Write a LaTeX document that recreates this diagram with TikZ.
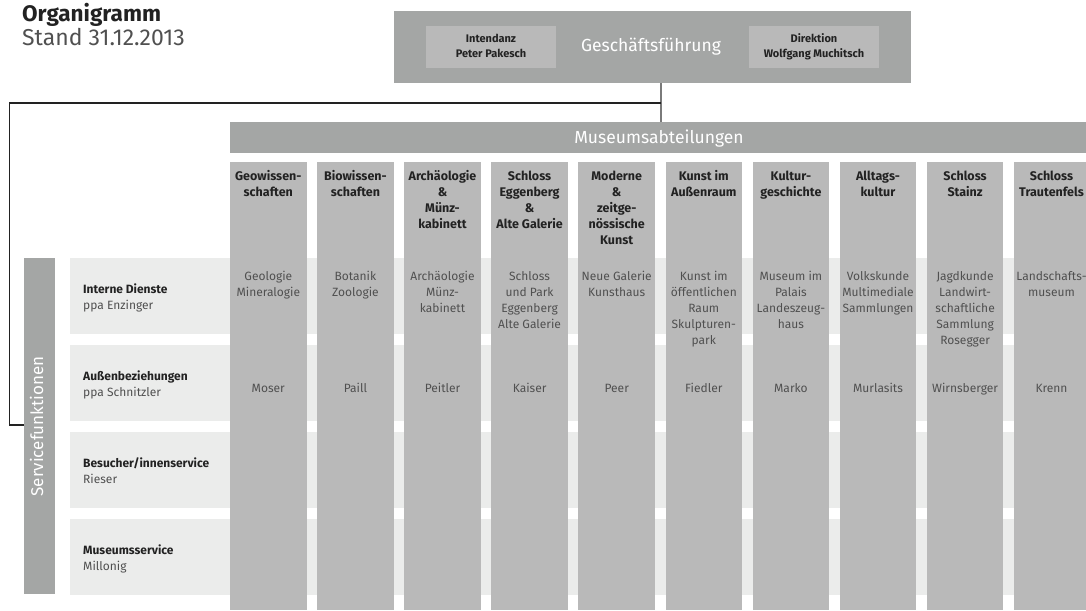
\documentclass[tikz,border=0pt]{standalone}
\usepackage{fontspec}
\setmainfont{Fira Sans}
\definecolor{dk}{HTML}{A4A6A5}
\definecolor{col}{HTML}{B9B9B9}
\definecolor{band}{HTML}{EBECEB}
\definecolor{txt}{HTML}{505050}
\definecolor{hd}{HTML}{222222}
\definecolor{lng}{HTML}{7A7A7A}
\newcommand\tsr{\rule{0pt}{10pt}}
\newcommand\tsrs{\rule{0pt}{9pt}}
\tikzset{
  box/.style={rectangle,inner sep=0pt,outer sep=0pt,anchor=north west},
  colbox/.style={box,fill=col,minimum width=76.5pt,minimum height=448pt},
  bandbox/.style={box,fill=band,minimum width=1020pt,minimum height=75.5pt},
  headtxt/.style={anchor=north,align=center,inner sep=0pt,text=hd,font=\fontsize{12.5}{16}\selectfont\bfseries},
  bodytxt/.style={anchor=north,align=center,inner sep=0pt,text=txt,font=\fontsize{12}{16}\selectfont},
  nametxt/.style={anchor=base,inner sep=0pt,text=txt,font=\fontsize{12}{16}\selectfont},
  rowtxt/.style={anchor=north west,align=left,inner sep=0pt,text=txt,font=\fontsize{12}{16}\selectfont},
  smalltxt/.style={anchor=north,align=center,inner sep=0pt,text=hd,font=\fontsize{11}{15.5}\selectfont\bfseries},
  bigw/.style={inner sep=0pt,text=white,font=\fontsize{17.5}{20}\selectfont},
}
\newcommand\rowhead[1]{{\color{hd}\bfseries #1}}
\begin{document}
\begin{tikzpicture}[x=1pt,y=-1pt]
\clip (0,0) rectangle (1086,610);
\useasboundingbox (0,0) rectangle (1086,610);

% title
\node[anchor=base west,inner sep=0pt,text=hd,font=\fontsize{22.5}{24}\selectfont\bfseries] (title) at (22,21.5) {Organigramm};
\node[anchor=base west,inner sep=0pt,text=txt,font=\fontsize{23}{26}\selectfont] (stand) at (22,45.5) {Stand 31.12.2013};

% top box
\node[box,fill=dk,minimum width=517pt,minimum height=72pt] (gf) at (394,11) {};
\node[box,fill=col,minimum width=130pt,minimum height=42pt] (int) at (426,26) {};
\node[box,fill=col,minimum width=130pt,minimum height=42pt] (dir) at (749,26) {};
\node[smalltxt] (intt) at (491,33) {\tsrs Intendanz\\Peter Pakesch};
\node[smalltxt] (dirt) at (814,33) {\tsrs Direktion\\Wolfgang Muchitsch};
\node[bigw,anchor=base] (gft) at (651,52) {Geschäftsführung};

% bands
\node[bandbox] (b1) at (70,258) {};
\node[bandbox] (b2) at (70,345) {};
\node[bandbox] (b3) at (70,432) {};
\node[bandbox] (b4) at (70,519) {};

% Servicefunktionen bar
\node[box,fill=dk,minimum width=31pt,minimum height=336pt] (sf) at (24,258) {};
\node[bigw,anchor=base,rotate=90,font=\fontsize{17}{20}\selectfont] (sft) at (43,426.5) {Servicefunktionen};

% Museumsabteilungen bar
\node[box,fill=dk,minimum width=860pt,minimum height=31pt] (mab) at (230,122) {};
\node[bigw,anchor=base] (mabt) at (659,143) {Museumsabteilungen};

% columns
\node[colbox] (c0) at (230.0,162) {};
\node[colbox] (c1) at (317.1,162) {};
\node[colbox] (c2) at (404.2,162) {};
\node[colbox] (c3) at (491.3,162) {};
\node[colbox] (c4) at (578.4,162) {};
\node[colbox] (c5) at (665.5,162) {};
\node[colbox] (c6) at (752.6,162) {};
\node[colbox] (c7) at (839.7,162) {};
\node[colbox] (c8) at (926.8,162) {};
\node[colbox] (c9) at (1013.9,162) {};

% column headers
\node[headtxt] (h0) at (268.3,170.5) {\tsr Geowissen-\\schaften};
\node[headtxt] (h1) at (355.4,170.5) {\tsr Biowissen-\\schaften};
\node[headtxt] (h2) at (442.5,170.5) {\tsr Archäologie\\\&\\Münz-\\kabinett};
\node[headtxt] (h3) at (529.6,170.5) {\tsr Schloss\\Eggenberg\\\&\\Alte Galerie};
\node[headtxt] (h4) at (616.7,170.5) {\tsr Moderne\\\&\\zeitge-\\nössische\\Kunst};
\node[headtxt] (h5) at (703.8,170.5) {\tsr Kunst im\\Außenraum};
\node[headtxt] (h6) at (790.9,170.5) {\tsr Kultur-\\geschichte};
\node[headtxt] (h7) at (878.0,170.5) {\tsr Alltags-\\kultur};
\node[headtxt] (h8) at (965.1,170.5) {\tsr Schloss\\Stainz};
\node[headtxt] (h9) at (1051.5,170.5) {\tsr Schloss\\Trautenfels};

% band 1 texts
\node[bodytxt] (i0) at (268.3,270) {\tsr Geologie\\Mineralogie};
\node[bodytxt] (i1) at (355.4,270) {\tsr Botanik\\Zoologie};
\node[bodytxt] (i2) at (442.5,270) {\tsr Archäologie\\Münz-\\kabinett};
\node[bodytxt] (i3) at (529.6,270) {\tsr Schloss\\und Park\\Eggenberg\\Alte Galerie};
\node[bodytxt] (i4) at (616.7,270) {\tsr Neue Galerie\\Kunsthaus};
\node[bodytxt] (i5) at (703.8,270) {\tsr Kunst im\\öffentlichen\\Raum\\Skulpturen-\\park};
\node[bodytxt] (i6) at (790.9,270) {\tsr Museum im\\Palais\\Landeszeug-\\haus};
\node[bodytxt] (i7) at (878.0,270) {\tsr Volkskunde\\Multimediale\\Sammlungen};
\node[bodytxt] (i8) at (965.1,270) {\tsr Jagdkunde\\Landwirt-\\schaftliche\\Sammlung\\Rosegger};
\node[bodytxt] (i9) at (1051.5,270) {\tsr Landschafts-\\museum};

% band 2 texts
\node[nametxt] (n0) at (268.3,392) {Moser};
\node[nametxt] (n1) at (355.4,392) {Paill};
\node[nametxt] (n2) at (442.5,392) {Peitler};
\node[nametxt] (n3) at (529.6,392) {Kaiser};
\node[nametxt] (n4) at (616.7,392) {Peer};
\node[nametxt] (n5) at (703.8,392) {Fiedler};
\node[nametxt] (n6) at (790.9,392) {Marko};
\node[nametxt] (n7) at (878.0,392) {Murlasits};
\node[nametxt] (n8) at (965.1,392) {Wirnsberger};
\node[nametxt] (n9) at (1051.5,392) {Krenn};

% row labels
\node[rowtxt] (r1) at (83,283) {\tsr\rowhead{Interne Dienste}\\ppa Enzinger};
\node[rowtxt] (r2) at (83,370) {\tsr\rowhead{Außenbeziehungen}\\ppa Schnitzler};
\node[rowtxt] (r3) at (83,457) {\tsr\rowhead{Besucher/innenservice}\\Rieser};
\node[rowtxt] (r4) at (83,544) {\tsr\rowhead{Museumsservice}\\Millonig};

% connectors
\coordinate (j) at (661,103);
\coordinate (lc) at (9.5,425);
\draw[lng,line width=2pt] (gf.south -| j) -- (mab.north -| j);
\draw[hd,line width=1.3pt] (j) -| (lc) -- (lc -| sf.west);
\end{tikzpicture}
\end{document}
